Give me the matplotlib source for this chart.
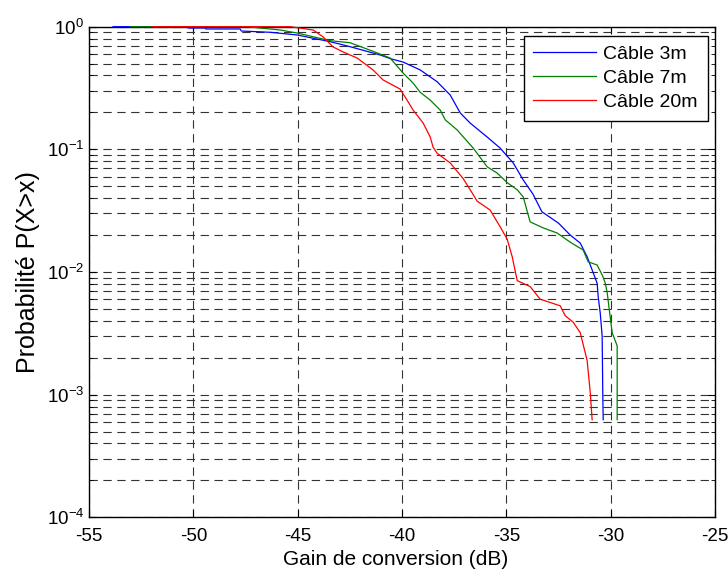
import matplotlib
matplotlib.use('Agg')
import matplotlib.pyplot as plt
from matplotlib.ticker import LogLocator, NullLocator

plt.rcParams['font.family'] = ['Liberation Sans', 'DejaVu Sans']
plt.rcParams['mathtext.fontset'] = 'custom'
plt.rcParams['mathtext.rm'] = 'Liberation Sans'
plt.rcParams['mathtext.default'] = 'regular'
plt.rcParams['axes.unicode_minus'] = False
plt.rcParams['lines.scale_dashes'] = False

# Gain de conversion (dB) and P(X>x)
x_3m = [-53.85, -50.30, -50.25, -49.44, -49.40, -47.76, -47.70, -46.30, -45.03, -43.45,
        -42.49, -41.39, -41.05, -40.50, -39.95, -39.13, -38.32, -37.69, -37.21, -36.74,
        -35.92, -35.30, -34.67, -34.19, -33.72, -33.30, -32.50, -31.94, -31.46, -31.13,
        -30.89, -30.65, -30.60, -30.50, -30.41, -30.38, -30.36]
p_3m = [1.0, 1.0, 0.976, 0.976, 0.958, 0.958, 0.922, 0.90, 0.856, 0.755,
        0.687, 0.610, 0.588, 0.545, 0.515, 0.444, 0.356, 0.277, 0.198, 0.164,
        0.126, 0.1024, 0.0774, 0.0562, 0.0430, 0.0310, 0.0250, 0.0200, 0.0172, 0.0133,
        0.0104, 0.0081, 0.0063, 0.0046, 0.0030, 0.00103, 0.000625]

x_7m = [-53.0, -47.43, -45.84, -45.03, -43.45, -42.49, -41.39, -40.57, -39.95, -39.47,
        -39.13, -38.65, -38.17, -37.93, -37.36, -36.59, -35.92, -35.44, -34.96, -34.48,
        -34.19, -33.95, -33.86, -33.24, -32.57, -31.94, -31.32, -31.08, -30.65, -30.40,
        -30.26, -30.17, -29.93, -29.69, -29.69]
p_7m = [1.0, 1.0, 0.94, 0.888, 0.769, 0.74, 0.63, 0.555, 0.419, 0.347,
        0.292, 0.252, 0.209, 0.174, 0.144, 0.1024, 0.072, 0.064, 0.0535, 0.0468,
        0.0409, 0.029, 0.0256, 0.0229, 0.0208, 0.0175, 0.0151, 0.0121, 0.0114, 0.0094,
        0.0081, 0.0068, 0.0032, 0.0025, 0.000625]

x_20m = [-52.0, -45.36, -44.26, -43.78, -43.30, -42.82, -42.15, -41.39, -40.91, -40.09,
         -39.76, -39.47, -38.99, -38.65, -38.51, -38.32, -37.69, -37.07, -36.74, -36.40,
         -35.78, -35.30, -34.96, -34.72, -34.48, -33.86, -33.38, -32.42, -32.18, -31.80,
         -31.46, -31.13, -30.98, -30.89]
p_20m = [1.0, 1.0, 0.94, 0.824, 0.683, 0.622, 0.555, 0.444, 0.368, 0.31,
         0.252, 0.209, 0.164, 0.126, 0.104, 0.093, 0.0774, 0.0577, 0.047, 0.0378,
         0.032, 0.0234, 0.0185, 0.0133, 0.0085, 0.0076, 0.006, 0.0053, 0.0044, 0.0039,
         0.0032, 0.0019, 0.00104, 0.000625]

labels = ['Câble 3m', 'Câble 7m', 'Câble 20m']
colors = ['#0000ff', '#008000', '#ff0000']
x_ticks = [-55, -50, -45, -40, -35, -30, -25]

fig = plt.figure(figsize=(7.28, 5.74), dpi=100)
ax = fig.add_axes([0.1223, 0.0988, 0.8599, 0.8547])

for xs, ps, lab, col in zip([x_3m, x_7m, x_20m], [p_3m, p_7m, p_20m], labels, colors):
    ax.semilogy(xs, ps, color=col, linewidth=0.9, label=lab, zorder=3, clip_on=False)

ax.set_xlim(-55, -25)
ax.set_ylim(1e-4, 1)
ax.set_xticks(x_ticks)
ax.set_xticklabels([str(t) for t in x_ticks])
ax.xaxis.set_minor_locator(NullLocator())
ax.yaxis.set_major_locator(LogLocator(base=10, numticks=10))
ax.yaxis.set_minor_locator(LogLocator(base=10, subs=range(2, 10), numticks=20))

grid_kw = dict(color='0.2', linestyle=(0, (6, 4)), linewidth=0.8)
ax.grid(True, which='major', axis='both', **grid_kw)
ax.grid(True, which='minor', axis='y', **grid_kw)

ax.tick_params(which='both', direction='in', top=True, right=True, labelsize=13.5)
ax.tick_params(axis='x', pad=8)
ax.tick_params(which='major', length=5)
ax.tick_params(which='minor', length=3)
for s in ax.spines.values():
    s.set_linewidth(1.0)

ax.set_xlabel('Gain de conversion (dB)', fontsize=15)
ax.set_ylabel('Probabilité P(X>x)', fontsize=18)
ax.xaxis.set_label_coords(0.49, -0.067)
ax.yaxis.set_label_coords(-0.078, 0.5)

leg = ax.legend(loc='upper right', bbox_to_anchor=(0.988, 0.982), borderaxespad=0,
                fontsize=14, fancybox=False, framealpha=1, edgecolor='black',
                handlelength=3.2, handletextpad=0.4, labelspacing=0.33, borderpad=0.5)
leg.get_frame().set_linewidth(1.0)

fig.savefig('out.png', dpi=100)
